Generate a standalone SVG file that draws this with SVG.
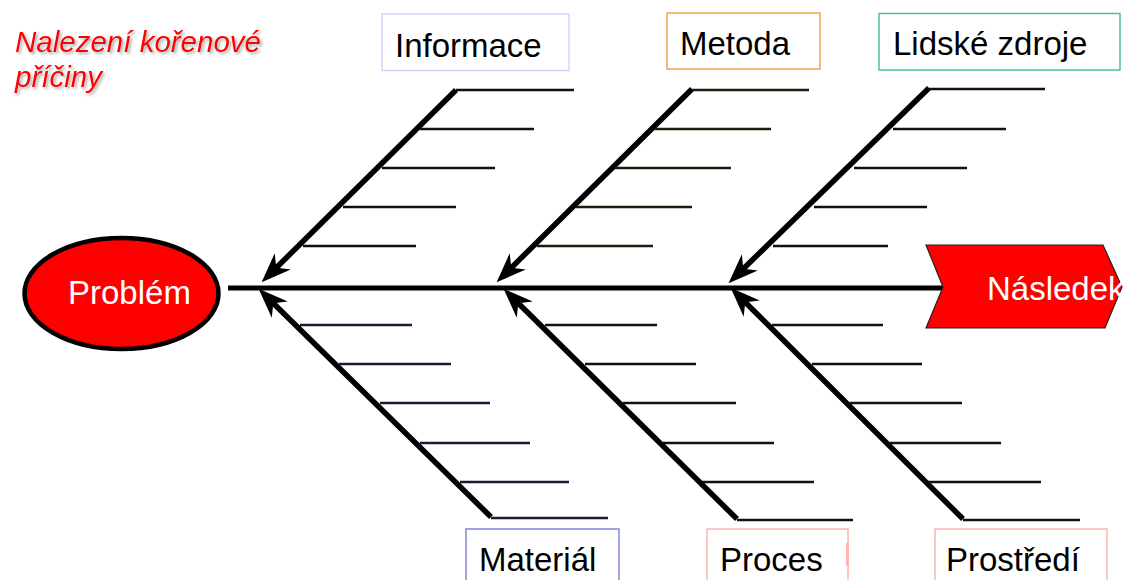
<svg xmlns="http://www.w3.org/2000/svg" width="1126" height="580" viewBox="0 0 1126 580">
  <style>
    .lbl { font-family: "Liberation Sans", Arial, sans-serif; font-size: 33px; fill: #000; }
    .wtxt { font-family: "Liberation Sans", Arial, sans-serif; font-size: 33px; fill: #fff; }
    .box { fill: #fff; stroke-width: 1.5; }
    .bone { stroke: #000; stroke-width: 5.5; fill: none; }
    .rib { stroke: #111; stroke-width: 2.5; fill: none; }
    .spine { stroke: #000; stroke-width: 5; }
  </style>
  <defs>
    <marker id="ah" markerUnits="userSpaceOnUse" orient="auto" refX="0" refY="0" markerWidth="40" markerHeight="40" viewBox="-15 -15 35 30" overflow="visible">
      <path d="M14,0 L-12,-10 L-4,0 L-12,10 Z" fill="#000"/>
    </marker>
    <filter id="sh" x="-10%" y="-20%" width="120%" height="150%">
      <feDropShadow dx="2" dy="2" stdDeviation="1.5" flood-color="#666" flood-opacity="0.55"/>
    </filter>
  </defs>

  <g id="title" filter="url(#sh)">
    <text x="15" y="52" font-family="'Liberation Sans', Arial, sans-serif" font-size="29.5" font-style="italic" fill="#ff0000">Nalezení kořenové</text>
    <text x="15" y="87" font-family="'Liberation Sans', Arial, sans-serif" font-size="29.5" font-style="italic" fill="#ff0000">příčiny</text>
  </g>

  <g id="connectors">
    <line class="spine" x1="228" y1="288" x2="945" y2="288"/>
    <!-- upper bones -->
    <line class="bone" x1="456" y1="90" x2="273" y2="271" marker-end="url(#ah)"/>
    <line class="bone" x1="692" y1="89" x2="508" y2="271" marker-end="url(#ah)"/>
    <line class="bone" x1="929" y1="88" x2="740" y2="272" marker-end="url(#ah)"/>
    <!-- lower bones -->
    <line class="bone" x1="491" y1="517" x2="270" y2="300" marker-end="url(#ah)"/>
    <line class="bone" x1="737" y1="519" x2="515" y2="300" marker-end="url(#ah)"/>
    <line class="bone" x1="963" y1="519" x2="742" y2="299" marker-end="url(#ah)"/>
    <!-- ribs: Informace -->
    <g class="rib">
      <line x1="456" y1="90" x2="574" y2="90"/>
      <line x1="420" y1="129" x2="534" y2="129"/>
      <line x1="382" y1="168" x2="495" y2="168"/>
      <line x1="343" y1="207" x2="456" y2="207"/>
      <line x1="303" y1="246" x2="416" y2="246"/>
    </g>
    <!-- ribs: Metoda -->
    <g class="rib" style="stroke:#1e1a0c">
      <line x1="692" y1="90" x2="809" y2="90"/>
      <line x1="655" y1="129" x2="771" y2="129"/>
      <line x1="615" y1="168" x2="731" y2="168"/>
      <line x1="576" y1="207" x2="692" y2="207"/>
      <line x1="537" y1="246" x2="653" y2="246"/>
    </g>
    <!-- ribs: Lidske zdroje -->
    <g class="rib">
      <line x1="929" y1="89" x2="1045" y2="89"/>
      <line x1="893" y1="129" x2="1006" y2="129"/>
      <line x1="854" y1="168" x2="967" y2="168"/>
      <line x1="814" y1="207" x2="927" y2="207"/>
      <line x1="773" y1="246" x2="888" y2="246"/>
    </g>
    <!-- ribs: Material -->
    <g class="rib" style="stroke:#1a1a38">
      <line x1="300" y1="325" x2="412" y2="325"/>
      <line x1="339" y1="364" x2="451" y2="364"/>
      <line x1="380" y1="403" x2="490" y2="403"/>
      <line x1="420" y1="443" x2="530" y2="443"/>
      <line x1="460" y1="482" x2="569" y2="482"/>
      <line x1="491" y1="518" x2="608" y2="518"/>
    </g>
    <!-- ribs: Proces -->
    <g class="rib">
      <line x1="545" y1="325" x2="657" y2="325"/>
      <line x1="585" y1="364" x2="696" y2="364"/>
      <line x1="623" y1="403" x2="736" y2="403"/>
      <line x1="663" y1="443" x2="774" y2="443"/>
      <line x1="702" y1="482" x2="814" y2="482"/>
      <line x1="737" y1="520" x2="853" y2="520"/>
    </g>
    <!-- ribs: Prostredi -->
    <g class="rib">
      <line x1="772" y1="325" x2="883" y2="325"/>
      <line x1="812" y1="364" x2="922" y2="364"/>
      <line x1="850" y1="403" x2="962" y2="403"/>
      <line x1="890" y1="443" x2="1001" y2="443"/>
      <line x1="928" y1="482" x2="1041" y2="482"/>
      <line x1="963" y1="520" x2="1080" y2="520"/>
    </g>
  </g>

  <g id="problem">
    <ellipse cx="121.5" cy="293.5" rx="97" ry="55.5" fill="#ff0000" stroke="#000" stroke-width="4.5"/>
    <text class="wtxt" x="68" y="304">Problém</text>
  </g>

  <g id="nasledek">
    <polygon points="926,245 1103,245 1122,287 1105,328 926,328 943,287" fill="#ff0000" stroke="#222" stroke-width="1.2"/>
    <text class="wtxt" x="987" y="300">Následek</text>
  </g>

  <g id="informace">
    <rect class="box" x="382" y="14" width="187" height="56.5" stroke="#d4d4ff"/>
    <text class="lbl" x="395" y="57">Informace</text>
  </g>
  <g id="metoda">
    <rect class="box" x="667" y="13" width="153" height="56" stroke="#f4a24c"/>
    <text class="lbl" x="680" y="55">Metoda</text>
  </g>
  <g id="lidske-zdroje">
    <rect class="box" x="879" y="13.5" width="241" height="56.5" stroke="#4cc489"/>
    <text class="lbl" x="893" y="55">Lidské zdroje</text>
  </g>
  <g id="material">
    <rect class="box" x="466" y="529" width="153" height="70" stroke="#7f88d8"/>
    <text class="lbl" x="479" y="571">Materiál</text>
  </g>
  <g id="proces">
    <rect class="box" x="707" y="529" width="141" height="70" stroke="#ffb4b4"/>
    <rect x="846" y="543" width="3" height="23" fill="#ffb4b4"/>
    <text class="lbl" x="720" y="571">Proces</text>
  </g>
  <g id="prostredi">
    <rect class="box" x="935" y="529" width="172" height="70" stroke="#ffb4b4"/>
    <text class="lbl" x="946" y="571">Prostředí</text>
  </g>
</svg>
